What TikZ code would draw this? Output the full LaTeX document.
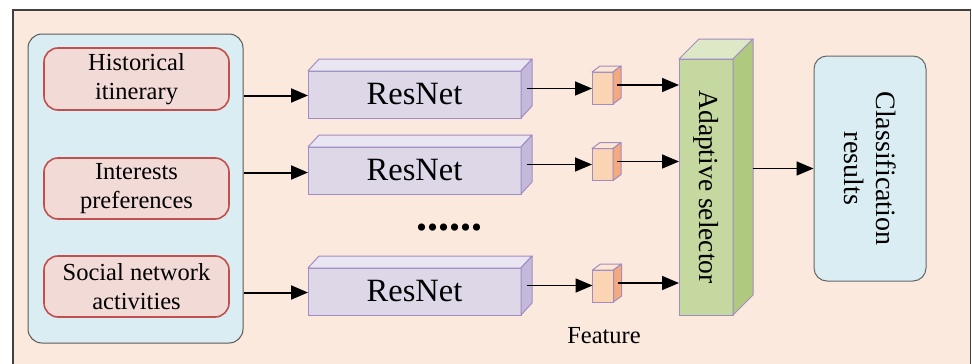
\documentclass[tikz,border=0pt]{standalone}
\usepackage{fontspec}
\setmainfont{Liberation Serif}
\usetikzlibrary{arrows.meta}

\definecolor{bgpeach}{HTML}{FCE9DD}
\definecolor{framegray}{HTML}{404040}
\definecolor{panelblue}{HTML}{DAEDF3}
\definecolor{boxred}{HTML}{C0504D}
\definecolor{boxpink}{HTML}{F2DAD6}
\definecolor{netedge}{HTML}{A08DC4}
\definecolor{netface}{HTML}{DDD7E8}
\definecolor{nettopc}{HTML}{E9E5F1}
\definecolor{netsidec}{HTML}{C5B9DB}
\definecolor{featface}{HTML}{FBD4B4}
\definecolor{feattopc}{HTML}{FDE6D4}
\definecolor{featsidec}{HTML}{F4AA7C}
\definecolor{selface}{HTML}{C4D8A0}
\definecolor{seltopc}{HTML}{DCE8C6}
\definecolor{selsidec}{HTML}{AFCA7E}

\begin{document}
\begin{tikzpicture}[x=1pt,y=-1pt,
  inbox/.style={draw=boxred,fill=boxpink,line width=1.6pt,rounded corners=14pt,
    minimum width=185pt,minimum height=62pt,inner sep=2pt,align=center,
    font=\rmfamily\fontsize{24.5}{29}\selectfont},
  netbox/.style={draw=netedge,fill=netface,line width=1pt,outer sep=0pt,
    minimum width=213pt,minimum height=47pt,font=\rmfamily\fontsize{32.5}{32}\selectfont},
  nettop/.style={draw=netedge,fill=nettopc,line width=1pt,line join=round},
  netside/.style={draw=netedge,fill=netsidec,line width=1pt,line join=round},
  featbox/.style={draw=netedge,fill=featface,line width=1pt,outer sep=0pt,
    minimum width=21pt,minimum height=32pt,inner sep=0pt},
  feattop/.style={draw=netedge,fill=feattopc,line width=1pt,line join=round},
  featside/.style={draw=netedge,fill=featsidec,line width=1pt,line join=round},
  selbox/.style={draw=netedge,fill=selface,line width=1pt,outer sep=0pt,
    minimum width=54pt,minimum height=256pt},
  seltop/.style={draw=netedge,fill=seltopc,line width=1pt,line join=round},
  selside/.style={draw=netedge,fill=selsidec,line width=1pt,line join=round},
  arr/.style={-{Triangle[length=17pt,width=14pt]},line width=2pt},
  arrthin/.style={-{Triangle[length=17pt,width=14pt]},line width=1.7pt}]

\useasboundingbox (0,0) rectangle (972,364);
\draw[framegray,fill=bgpeach,line width=1.5pt] (13,10) rectangle (970.5,380);

% inputs
\node (in) [draw=black!65,fill=panelblue,line width=1pt,rounded corners=14pt,
  minimum width=215pt,minimum height=309pt] at (135.5,188.5) {};
\node (hist) [inbox] at (136.5,79) {Historical\\itinerary};
\node (intr) [inbox,minimum height=61pt] at (136.5,188.5) {Interests\\preferences};
\node (soc) [inbox,minimum height=61pt] at (136.5,286.5) {Social network\\activities};

% ResNet branches
\node (r1) [netbox] at (414.5,94.5) {ResNet};
\node (r2) [netbox] at (414.5,170.5) {ResNet};
\node (r3) [netbox] at (414.5,291.5) {ResNet};
\draw[nettop] (r1.north west) -- ++(11,-12) -- ++(213,0) -- (r1.north east) -- cycle;
\draw[netside] (r1.north east) -- ++(11,-12) -- ++(0,47) -- (r1.south east) -- cycle;
\draw[nettop] (r2.north west) -- ++(11,-12) -- ++(213,0) -- (r2.north east) -- cycle;
\draw[netside] (r2.north east) -- ++(11,-12) -- ++(0,47) -- (r2.south east) -- cycle;
\draw[nettop] (r3.north west) -- ++(11,-12) -- ++(213,0) -- (r3.north east) -- cycle;
\draw[netside] (r3.north east) -- ++(11,-12) -- ++(0,47) -- (r3.south east) -- cycle;

\node (dots) [anchor=base,font=\rmfamily\fontsize{44}{44}\selectfont\bfseries] at (449.5,230) {......};

% features
\node (f1) [featbox] at (602.5,88) {};
\node (f2) [featbox] at (602.5,164.5) {};
\node (f3) [featbox] at (603,286) {};
\draw[feattop] (f1.north west) -- ++(8,-6) -- ++(21,0) -- (f1.north east) -- cycle;
\draw[featside] (f1.north east) -- ++(8,-6) -- ++(0,32) -- (f1.south east) -- cycle;
\draw[feattop] (f2.north west) -- ++(8,-6) -- ++(21,0) -- (f2.north east) -- cycle;
\draw[featside] (f2.north east) -- ++(8,-6) -- ++(0,32) -- (f2.south east) -- cycle;
\draw[feattop] (f3.north west) -- ++(8,-6) -- ++(21,0) -- (f3.north east) -- cycle;
\draw[featside] (f3.north east) -- ++(8,-6) -- ++(0,32) -- (f3.south east) -- cycle;
\node (feat) [anchor=base,font=\rmfamily\fontsize{24.5}{24}\selectfont] at (604,343) {Feature};

% selector
\node (sel) [selbox] at (706,187) {};
\draw[seltop] (sel.north west) -- ++(20,-20) -- ++(54,0) -- (sel.north east) -- cycle;
\draw[selside] (sel.north east) -- ++(20,-20) -- ++(0,256) -- (sel.south east) -- cycle;
\node (seltext) [rotate=-90,font=\rmfamily\fontsize{27.5}{27}\selectfont] at (sel.center) {Adaptive selector};

% output
\node (res) [draw=black!60,fill=panelblue,line width=1pt,rounded corners=13pt,
  minimum width=112pt,minimum height=225pt] at (870,168.5) {};
\node (restext) [rotate=-90,align=center,font=\rmfamily\fontsize{28}{32}\selectfont] at (res.center) {Classification\\results};

% connections
\coordinate (r1o) at ([shift={(5.5,-6)}]r1.east);
\coordinate (r2o) at ([shift={(5.5,-6)}]r2.east);
\coordinate (r3o) at ([shift={(5.5,-6)}]r3.east);
\coordinate (f1o) at ([shift={(4,-3)}]f1.east);
\coordinate (f2o) at ([shift={(4,-3)}]f2.east);
\coordinate (f3o) at ([shift={(4,-3)}]f3.east);
\coordinate (selo) at ([xshift=20]sel.east);
\draw[arr] ([yshift=-1]r1.west -| in.east) -- ([yshift=-1]r1.west);
\draw[arr] ([yshift=-2]r2.west -| in.east) -- ([yshift=-2]r2.west);
\draw[arr] ([yshift=-1]r3.west -| in.east) -- ([yshift=-1]r3.west);
\draw[arrthin] (r1o) -- (r1o -| f1.west);
\draw[arrthin] (r2o) -- (r2o -| f2.west);
\draw[arrthin] (r3o) -- (r3o -| f3.west);
\draw[arrthin] (f1o) -- (f1o -| sel.west);
\draw[arrthin] (f2o) -- (f2o -| sel.west);
\draw[arrthin] (f3o) -- (f3o -| sel.west);
\draw[arrthin] (selo |- res.west) -- (res.west);
\end{tikzpicture}
\end{document}
